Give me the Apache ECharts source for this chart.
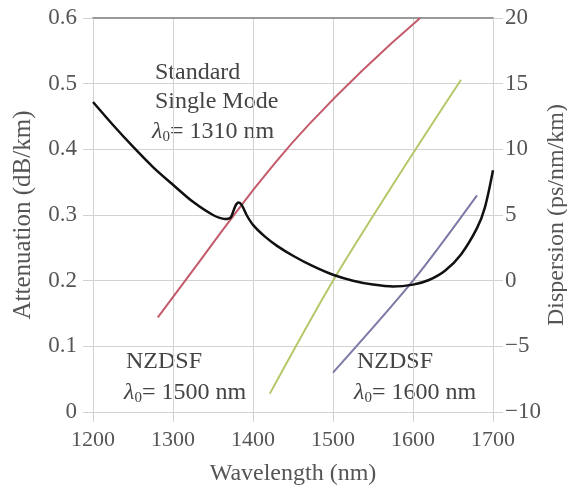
<!DOCTYPE html>
<html>
<head>
<meta charset="utf-8">
<script src="https://cdn.jsdelivr.net/npm/echarts@6/dist/echarts.min.js"></script>
<style>
html, body { margin: 0; background: #fff; }
#chart { width: 567px; height: 486px; }
</style>
</head>
<body>
<div id="chart"></div>
<script>
// attenuation (dB/km) of the fibre, left axis
var att_wl = [1200, 1225, 1250, 1275, 1300, 1325, 1350, 1365, 1372, 1378, 1382, 1386, 1392, 1400, 1415, 1430, 1450, 1475, 1500, 1525, 1550, 1575, 1600, 1620, 1640, 1660, 1680, 1690, 1700];
var att_val = [0.472, 0.437, 0.404, 0.373, 0.346, 0.320, 0.300, 0.294, 0.296, 0.314, 0.319, 0.315, 0.300, 0.285, 0.267, 0.253, 0.238, 0.222, 0.209, 0.200, 0.194, 0.191, 0.194, 0.201, 0.215, 0.240, 0.280, 0.312, 0.368];

// dispersion (ps/nm/km), right axis
var smf_wl = [1281, 1330, 1375, 1420, 1470, 1540, 1609];
var smf_disp = [-2.8, 1.2, 4.9, 8.4, 11.9, 16.2, 20];
var nz1500_wl = [1421, 1500, 1580, 1660];
var nz1500_disp = [-8.6, 0, 7.8, 15.3];
var nz1600_wl = [1500, 1600, 1680];
var nz1600_disp = [-7.0, 0, 6.5];

var x_ticks = [1200, 1700, 100];
var att_ticks = [0, 0.6, 0.1];
var disp_ticks = [-10, 20, 5];

function pairs(xs, ys) {
  var out = [];
  for (var i = 0; i < xs.length; i++) out.push([xs[i], ys[i]]);
  return out;
}

var serif = '"Liberation Serif", "DejaVu Serif", serif';
var gridColor = '#d2d2d2';
var textColor = '#555';

var chart = echarts.init(document.getElementById('chart'));

function lambdaText(x, y, nm) {
  return {
    type: 'text', left: x, top: y,
    style: {
      text: '{l|\u03bb}{s|0}{t|= ' + nm + ' nm}',
      fill: '#444',
      font: '24px ' + serif,
      rich: {
        l: { fontFamily: serif, fontSize: 24, fontStyle: 'italic', color: '#444' },
        s: { fontFamily: serif, fontSize: 15, color: '#444', padding: [10, 0, 0, 0] },
        t: { fontFamily: serif, fontSize: 24, color: '#444' }
      }
    }
  };
}

var option = {
  animation: false,
  grid: { left: 93, right: 74, top: 18, bottom: 74, containLabel: false, outerBoundsMode: 'none' },
  xAxis: [{
    type: 'value',
    min: x_ticks[0], max: x_ticks[1], interval: x_ticks[2],
    name: 'Wavelength (nm)',
    nameLocation: 'middle',
    nameGap: 50,
    nameMoveOverlap: false,
    nameTextStyle: { fontFamily: serif, fontSize: 24, color: textColor },
    axisLine: { lineStyle: { color: gridColor } },
    axisTick: { length: 10, lineStyle: { color: gridColor } },
    axisLabel: { fontFamily: serif, fontSize: 22, color: textColor, margin: 17,
      formatter: function (v) { return String(v); } },
    splitLine: { lineStyle: { color: gridColor } }
  }, {
    type: 'value', position: 'top',
    min: x_ticks[0], max: x_ticks[1],
    axisLine: { onZero: false, lineStyle: { color: '#9a9a9a', width: 2 } },
    axisTick: { show: false }, axisLabel: { show: false }, splitLine: { show: false }
  }],
  yAxis: [{
    type: 'value',
    min: att_ticks[0], max: att_ticks[1], interval: att_ticks[2],
    name: 'Attenuation (dB/km)',
    nameLocation: 'middle',
    nameGap: 57,
    nameMoveOverlap: false,
    nameTextStyle: { fontFamily: serif, fontSize: 25, color: textColor },
    axisLine: { show: true, onZero: false, lineStyle: { color: gridColor } },
    axisTick: { show: true, length: 10, lineStyle: { color: gridColor } },
    axisLabel: { fontFamily: serif, fontSize: 23, color: textColor, margin: 16 },
    splitLine: { lineStyle: { color: gridColor } }
  }, {
    type: 'value',
    min: disp_ticks[0], max: disp_ticks[1], interval: disp_ticks[2],
    name: 'Dispersion (ps/nm/km)',
    nameLocation: 'middle',
    nameGap: 52,
    nameRotate: 90,
    nameMoveOverlap: false,
    nameTextStyle: { fontFamily: serif, fontSize: 24, color: textColor },
    axisLine: { show: true, onZero: false, lineStyle: { color: gridColor } },
    axisTick: { show: true, length: 10, lineStyle: { color: gridColor } },
    axisLabel: {
      fontFamily: serif, fontSize: 23, color: textColor, margin: 12,
      formatter: function (v) { return v < 0 ? '\u2212' + Math.abs(v) : String(v); }
    },
    splitLine: { show: false }
  }],
  series: [{
    name: 'Standard Single Mode',
    type: 'line', yAxisIndex: 1, showSymbol: false, smooth: 0.5,
    lineStyle: { color: '#c45a6a', width: 2 },
    data: pairs(smf_wl, smf_disp)
  }, {
    name: 'NZDSF 1500',
    type: 'line', yAxisIndex: 1, showSymbol: false, smooth: 0.3,
    lineStyle: { color: '#b3c866', width: 2 },
    data: pairs(nz1500_wl, nz1500_disp)
  }, {
    name: 'NZDSF 1600',
    type: 'line', yAxisIndex: 1, showSymbol: false, smooth: 0.3,
    lineStyle: { color: '#7c7aa6', width: 2 },
    data: pairs(nz1600_wl, nz1600_disp)
  }, {
    name: 'Attenuation',
    type: 'line', yAxisIndex: 0, showSymbol: false, smooth: 0.3,
    lineStyle: { color: '#111', width: 2.5 },
    data: pairs(att_wl, att_val)
  }],
  graphic: [
    { type: 'text', left: 155, top: 61, style: { text: 'Standard', font: '24px ' + serif, fill: '#444' } },
    { type: 'text', left: 155, top: 90, style: { text: 'Single Mode', font: '24px ' + serif, fill: '#444' } },
    lambdaText(152, 120, '1310'),
    { type: 'text', left: 126, top: 350, style: { text: 'NZDSF', font: '24px ' + serif, fill: '#444' } },
    lambdaText(124, 381, '1500'),
    { type: 'text', left: 357, top: 350, style: { text: 'NZDSF', font: '24px ' + serif, fill: '#444' } },
    lambdaText(354, 381, '1600')
  ]
};

chart.setOption(option);
</script>
</body>
</html>
